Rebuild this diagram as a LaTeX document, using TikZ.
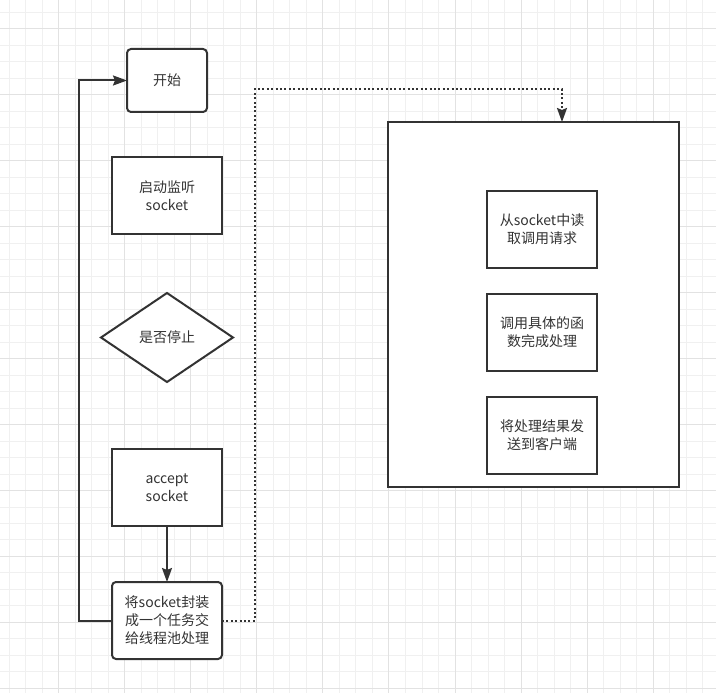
\documentclass[tikz,border=0pt]{standalone}
\usepackage{fontspec}
\setmainfont{Noto Sans CJK SC}
\usetikzlibrary{arrows.meta,shapes.geometric}
\definecolor{ink}{HTML}{333333}
\definecolor{gridminor}{HTML}{F0F0F0}
\definecolor{gridmajor}{HTML}{E2E2E2}
\begin{document}
\begin{tikzpicture}[x=1pt,y=-1pt,
  box/.style={draw=ink, line width=2pt, fill=white, text=ink, align=center,
    inner sep=0pt, outer sep=0pt, font=\fontsize{14}{18}\selectfont},
  rbox/.style={box, rounded corners=4pt},
  decision/.style={box, diamond, aspect=1.48},
  conn/.style={draw=ink, line width=2pt, -{Stealth[length=14pt,width=10pt,inset=2pt]}},
  dotconn/.style={conn, dash pattern=on 2pt off 2.4pt}]
\useasboundingbox (0,0) rectangle (716,693);
\fill[white] (0,0) rectangle (716,693);
% grid
\foreach \i in {0,...,42} \draw[gridminor, line width=1pt] ({9+16.52*\i},0) -- ({9+16.52*\i},693);
\foreach \i in {0,...,41} \draw[gridminor, line width=1pt] (0,{12.3+16.49*\i}) -- (716,{12.3+16.49*\i});
\foreach \i in {3,7,...,39} \draw[gridmajor, line width=1pt] ({9+16.52*\i},0) -- ({9+16.52*\i},693);
\foreach \i in {1,5,...,41} \draw[gridmajor, line width=1pt] (0,{12.3+16.49*\i}) -- (716,{12.3+16.49*\i});
% nodes
\node[rbox, minimum width=80pt, minimum height=63pt] (start) at (167,80.5) {开始};
\node[box, minimum width=110pt, minimum height=77pt] (listen) at (167,195.75) {启动监听\\socket};
\node[decision, minimum width=132pt, minimum height=89pt] (stop) at (167,337.5) {是否停止};
\node[box, minimum width=110pt, minimum height=77pt] (accept) at (167,487.5) {accept\\socket};
\node[rbox, minimum width=110pt, minimum height=77pt] (task) at (167,620.5) {将socket封装\\成一个任务交\\给线程池处理};
\node[box, minimum width=291pt, minimum height=365pt] (server) at (533.5,304.5) {};
\node[box, minimum width=110.5pt, minimum height=77pt] (read) at (542,229.5) {从socket中读\\取调用请求};
\node[box, minimum width=110.5pt, minimum height=77pt] (call) at (542,332.5) {调用具体的函\\数完成处理};
\node[box, minimum width=110.5pt, minimum height=77pt] (send) at (542,435.5) {将处理结果发\\送到客户端};
% connectors
\coordinate (loopc) at (79,80.5);
\coordinate (dotc) at (255,89);
\coordinate (srvin) at (562,122);
\draw[conn] (task.west) -| (loopc) -- (start.west);
\draw[conn] (accept.south) -- (task.north);
\draw[dotconn] (task.east) -| (dotc) -| (srvin);
\end{tikzpicture}
\end{document}
